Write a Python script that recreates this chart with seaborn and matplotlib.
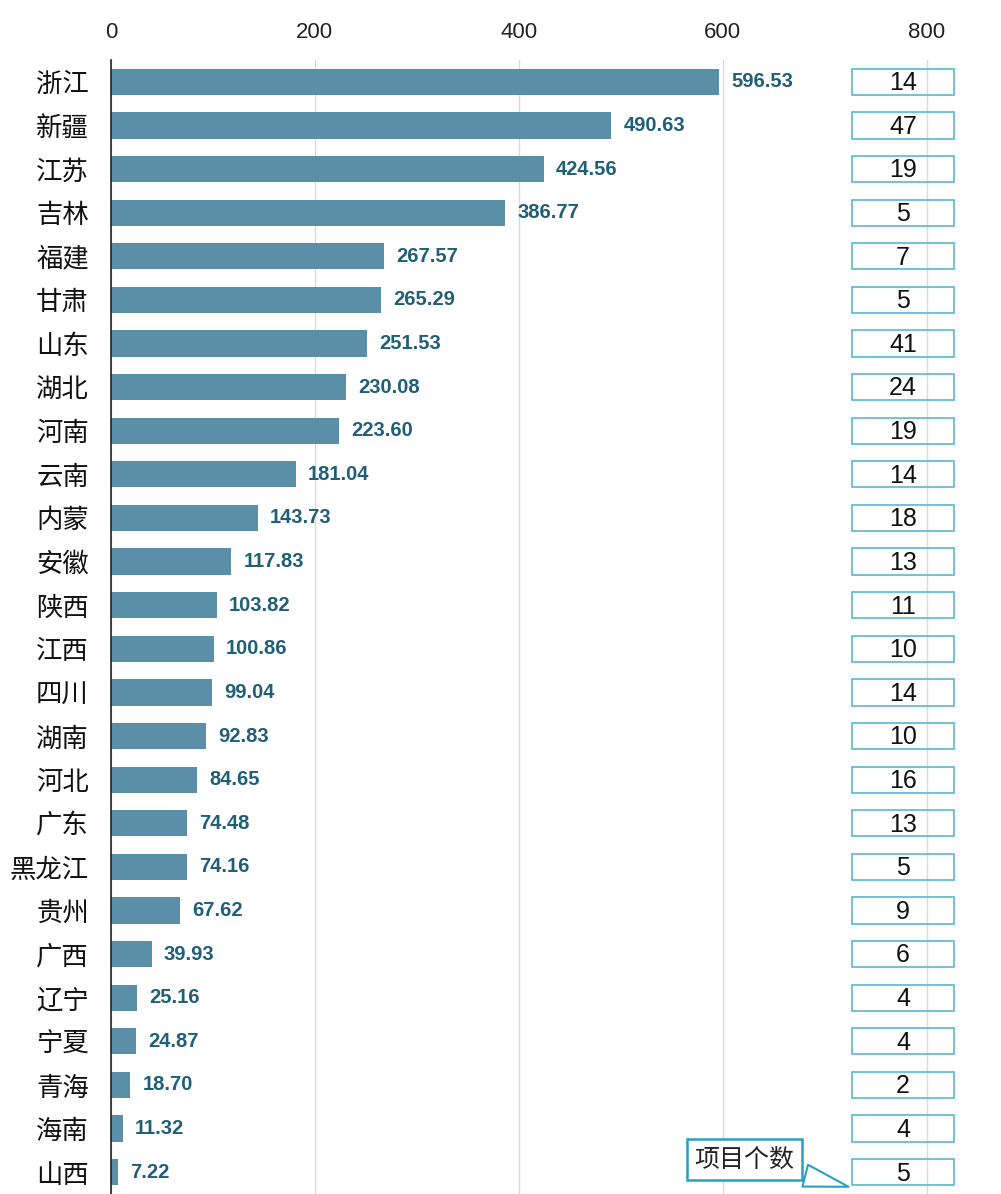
import numpy as np
import pandas as pd
import seaborn as sns
import matplotlib.pyplot as plt

provinces = ["浙江", "新疆", "江苏", "吉林", "福建", "甘肃", "山东", "湖北", "河南", "云南",
             "内蒙", "安徽", "陕西", "江西", "四川", "湖南", "河北", "广东", "黑龙江", "贵州",
             "广西", "辽宁", "宁夏", "青海", "海南", "山西"]
amounts = [596.53, 490.63, 424.56, 386.77, 267.57, 265.29, 251.53, 230.08, 223.60, 181.04,
           143.73, 117.83, 103.82, 100.86, 99.04, 92.83, 84.65, 74.48, 74.16, 67.62,
           39.93, 25.16, 24.87, 18.70, 11.32, 7.22]
counts = [14, 47, 19, 5, 7, 5, 41, 24, 19, 14, 18, 13, 11, 10, 14, 10, 16, 13, 5, 9,
          6, 4, 4, 2, 4, 5]
x_ticks = [0, 200, 400, 600, 800]

df = pd.DataFrame({"province": provinces, "amount": amounts, "count": counts})

sns.set_style("white")
plt.rcParams["font.family"] = ["Liberation Sans", "Noto Sans CJK SC", "DejaVu Sans"]

fig = plt.figure(figsize=(10.01, 11.94), dpi=100)
ax = fig.add_axes([111 / 1001, 0.0, 887 / 1001, (1194 - 60) / 1194])

sns.barplot(data=df, y="province", x="amount", color="#5B8FA8", saturation=1,
            width=0.6, orient="h", linewidth=0, ax=ax)

# value labels
for i, v in enumerate(df["amount"]):
    ax.text(v + 12, i, f"{v:.2f}", va="center", ha="left", fontsize=14.5,
            fontweight="bold", color="#1F5F78")

# project-count boxes
rows = np.arange(len(df))
ax.barh(rows, 100, left=727, height=0.6, fill=False, edgecolor="#5BB8D0", linewidth=1.2)
for i, c in enumerate(df["count"]):
    ax.text(777, i + 0.03, str(c), ha="center", va="center", fontsize=18, color="#111111")

ax.annotate("项目个数", xy=(726, 25.35), xytext=(621, 24.72),
            ha="center", va="center", fontsize=18, color="#222222", zorder=5,
            family=["Noto Sans CJK SC", "DejaVu Sans"],
            bbox=dict(boxstyle="square,pad=0.3", fc="white", ec="#2A9FC4", lw=1.8),
            arrowprops=dict(arrowstyle="wedge,tail_width=0.9,shrink_factor=0.5",
                            fc="white", ec="#2A9FC4", lw=1.5))

ax.set_xlim(0, 870)
ax.set_ylim(len(df) - 0.5, -0.5)
ax.xaxis.tick_top()
ax.set_xticks(x_ticks)
ax.tick_params(axis="x", length=0, labelsize=16, labelcolor="#222222", pad=12)
ax.tick_params(axis="y", length=0, labelsize=19, labelcolor="#111111", pad=16)
for lbl in ax.get_yticklabels():
    lbl.set_family(["Noto Sans CJK SC", "DejaVu Sans"])
ax.set_yticks(np.arange(-0.5, len(df), 1), minor=True)
ax.tick_params(axis="y", which="minor", length=6, width=1.2, color="#222222", direction="out")
ax.set_xlabel("")
ax.set_ylabel("")

ax.grid(axis="x", color="#DADADA", linewidth=1)
ax.set_axisbelow(True)
for s in ["top", "right", "bottom"]:
    ax.spines[s].set_visible(False)
ax.spines["left"].set_color("#222222")
ax.spines["left"].set_linewidth(1.2)

fig.savefig("out.png", dpi=100)
